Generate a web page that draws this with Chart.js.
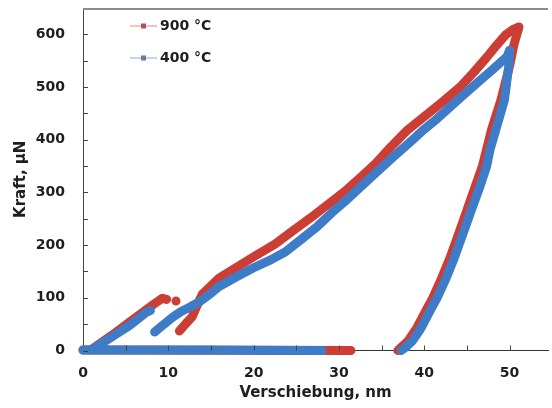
<!DOCTYPE html>
<html>
<head>
<meta charset="utf-8">
<script src="https://cdn.jsdelivr.net/npm/chart.js@4.4.1/dist/chart.umd.min.js"></script>
<style>
  html, body { margin: 0; padding: 0; background: #fff; overflow: hidden; }
  #wrap { width: 552px; height: 408px; }
</style>
</head>
<body>
<div id="wrap"><canvas id="chart"></canvas></div>
<script>
// tick labels
const xTicks = [0, 10, 20, 30, 40, 50]
const yTicks = [0, 100, 200, 300, 400, 500, 600]

// series labels
const labels = ['900 °C', '400 °C']

// 900 °C: approach, first loading, pop-in, loading, unloading (null = gap)
const disp900 = [0, 31.4, null,
    1.0, 3.3, 5.3, 6.8, 8.3, 9.3, 9.8, null,
    10.9, null,
    11.3, 12.0, 12.8, 13.6, 14.0, 16.0, 18.0, 20.0, 22.5, 24.5, 26.7, 28.7, 30.7, 32.5, 34.3, 36.0, 38.0, 40.3, 42.3, 44.2, 45.8, 47.3, 48.5, 49.6, 50.5, 51.1,
    50.5, 50.0, 49.0, 47.9, 46.8, 45.9, 45.0, 44.0, 43.0, 42.0, 41.0, 40.0, 39.1, 38.1, 37.3, 36.9]
const force900 = [1, 0, null,
    2, 28, 52, 70, 88, 99, 97, null,
    94, null,
    37, 50, 64, 94, 107, 138, 158, 178, 202, 226, 252, 277, 302, 328, 355, 385, 418, 448, 474, 500, 528, 556, 580, 600, 610, 614,
    580, 540, 476, 420, 349, 308, 266, 220, 175, 136, 100, 70, 42, 18, 6, 0]

// 400 °C
const disp400 = [0, 14, 28, null,
    1.3, 3.5, 5.5, 7.4, 7.9, null,
    8.4, 9.5, 10.5, 11.5, 12.5, 13.6, 14.8, 15.9, 18, 20, 22, 23.7, 25.5, 27.5, 29.2, 30.7, 32.5, 34.5, 36.9, 38.5, 40, 41.5, 43, 44.6, 46.2, 48, 49.7, 50,
    49.9, 49.4, 48.4, 47.7, 47.3, 46.5, 45.5, 44.5, 43.5, 42.5, 41.5, 40.5, 39.6, 38.6, 37.8, 37.3]
const force400 = [1, 1, 0, null,
    4, 27, 48, 72, 76, null,
    35, 50, 63, 74, 82, 92, 106, 121, 140, 157, 172, 187, 210, 236, 262, 283, 310, 340, 375, 398, 420, 440, 462, 485, 508, 533, 558, 570,
    540, 476, 420, 381, 349, 310, 266, 220, 175, 135, 100, 70, 42, 18, 6, 0]

const RED = 'rgb(204, 62, 52)'
const BLUE = 'rgb(62, 124, 200)'
const FONT = 'DejaVu Sans'

const toPoints = (xs, ys) => xs.map((x, i) => ({ x: x, y: ys[i] }))

const legendStyle = [
    { line: 'rgb(236, 176, 174)', marker: 'rgb(176, 80, 88)' },
    { line: 'rgb(180, 198, 226)', marker: 'rgb(104, 120, 168)' }
]

// inward tick marks, top frame line and in-plot legend
const framePlugin = {
    id: 'frame',
    afterDraw(chart) {
        const { ctx, chartArea, scales } = chart
        ctx.save()
        ctx.strokeStyle = '#444'
        ctx.lineWidth = 1
        ctx.beginPath()
        for (let v = 0; v <= 650; v += 50) {
            const py = Math.round(scales.y.getPixelForValue(v)) + 0.5
            ctx.moveTo(chartArea.left, py)
            ctx.lineTo(chartArea.left + 5, py)
        }
        for (let v = 5; v <= 54; v += 5) {
            const px = Math.round(scales.x.getPixelForValue(v)) + 0.5
            ctx.moveTo(px, chartArea.bottom)
            ctx.lineTo(px, chartArea.bottom - 5)
        }
        ctx.stroke()

        ctx.strokeStyle = '#8c8c8c'
        ctx.lineWidth = 2
        ctx.beginPath()
        ctx.moveTo(chartArea.left, chartArea.top + 1)
        ctx.lineTo(chartArea.right, chartArea.top + 1)
        ctx.stroke()

        const rows = [26, 58]
        chart.data.datasets.forEach((ds, i) => {
            const y = rows[i]
            ctx.strokeStyle = legendStyle[i].line
            ctx.lineWidth = 1.5
            ctx.beginPath()
            ctx.moveTo(130, y)
            ctx.lineTo(157, y)
            ctx.stroke()
            ctx.fillStyle = legendStyle[i].marker
            ctx.fillRect(141, y - 2.5, 5, 5)
            ctx.fillStyle = '#1e1e1e'
            ctx.font = 'bold 14px "' + FONT + '"'
            ctx.textAlign = 'left'
            ctx.textBaseline = 'middle'
            ctx.fillText(ds.label, 160, y)
        })
        ctx.restore()
    }
}

const bandStyle = (color, order) => ({
    borderColor: color,
    backgroundColor: color,
    pointBackgroundColor: color,
    pointBorderWidth: 0,
    pointRadius: 3,
    pointStyle: 'rect',
    borderWidth: 9,
    borderJoinStyle: 'round',
    borderCapStyle: 'round',
    showLine: true,
    tension: 0,
    clip: false,
    order: order
})

new Chart(document.getElementById('chart'), {
    type: 'scatter',
    data: {
        datasets: [
            { label: labels[0], data: toPoints(disp900, force900), ...bandStyle(RED, 1) },
            { label: labels[1], data: toPoints(disp400, force400), ...bandStyle(BLUE, 0) }
        ]
    },
    options: {
        responsive: true,
        maintainAspectRatio: false,
        animation: false,
        events: [],
        layout: { padding: { top: 8, right: 0, bottom: 0, left: 0 } },
        plugins: {
            legend: { display: false },
            tooltip: { enabled: false }
        },
        scales: {
            x: {
                type: 'linear',
                min: 0,
                max: 54.5,
                afterFit: (scale) => {
                    scale.height = 57.5
                    scale.paddingLeft = 0
                    scale.paddingRight = 0
                },
                afterBuildTicks: (scale) => { scale.ticks = xTicks.map(v => ({ value: v })) },
                grid: { display: false, drawTicks: false },
                border: { display: true, color: '#333', width: 1 },
                ticks: {
                    padding: 14,
                    color: '#1e1e1e',
                    font: { family: FONT, size: 14, weight: 'bold' }
                },
                title: {
                    display: true,
                    text: 'Verschiebung, nm',
                    color: '#1e1e1e',
                    padding: { top: 0, bottom: 6 },
                    font: { family: FONT, size: 15, weight: 'bold' }
                }
            },
            y: {
                type: 'linear',
                min: 0,
                max: 650,
                afterFit: (scale) => {
                    scale.width = 83
                    scale.paddingTop = 0
                    scale.paddingBottom = 0
                },
                afterBuildTicks: (scale) => { scale.ticks = yTicks.map(v => ({ value: v })) },
                grid: { display: false, drawTicks: false },
                border: { display: true, color: '#444', width: 1 },
                ticks: {
                    padding: 18,
                    color: '#1e1e1e',
                    font: { family: FONT, size: 14, weight: 'bold' }
                },
                title: {
                    display: true,
                    text: 'Kraft, µN',
                    color: '#1e1e1e',
                    padding: { top: 12, bottom: 0 },
                    font: { family: FONT, size: 15, weight: 'bold' }
                }
            }
        }
    },
    plugins: [framePlugin]
})
</script>
</body>
</html>
